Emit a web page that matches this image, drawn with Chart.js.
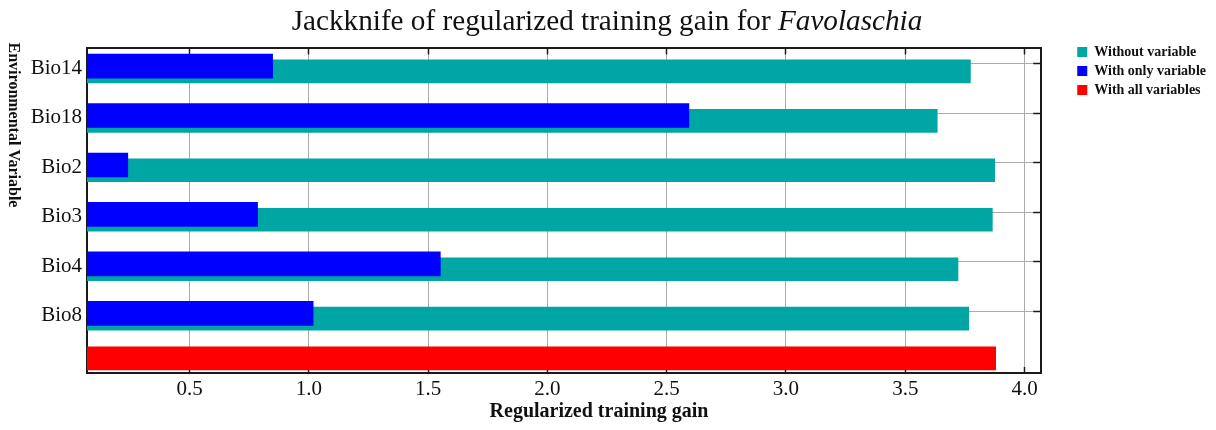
<!DOCTYPE html>
<html>
<head>
<meta charset="utf-8">
<title>Jackknife of regularized training gain for Favolaschia</title>
<script src="https://cdn.jsdelivr.net/npm/chart.js@4.4.1/dist/chart.umd.min.js"></script>
<style>
  html, body { margin: 0; padding: 0; background: #ffffff; }
  canvas { display: block; }
</style>
</head>
<body>
<canvas id="jackknife" width="1216" height="430"></canvas>
<script>
// ---- data -------------------------------------------------------------
const variables = ['Bio14', 'Bio18', 'Bio2', 'Bio3', 'Bio4', 'Bio8'];
const withoutVariable = [3.773, 3.634, 3.875, 3.865, 3.721, 3.766];
const withOnlyVariable = [0.848, 2.593, 0.241, 0.785, 1.551, 1.018];
const withAllVariables = [3.879];
const gainTicks = [0.5, 1.0, 1.5, 2.0, 2.5, 3.0, 3.5, 4.0];
const seriesNames = ['Without variable', 'With only variable', 'With all variables'];
const titleParts = [
  { text: 'Jackknife of regularized training gain for ', italic: false },
  { text: 'Favolaschia', italic: true }
];
const xTitle = 'Regularized training gain';
const yTitle = 'Environmental Variable';

// ---- look -------------------------------------------------------------
const SERIF = "'Liberation Serif', 'Times New Roman', Times, serif";
const TEAL = '#00a6a3';
const BLUE = '#0000ff';
const RED = '#ff0000';
const INK = '#111111';
const FRAME = '#1a1a1a';
const GRID = '#ababab';

// axis extents (gain on x, variable rows on y, row 0 at the top)
const GAIN_MIN = 0.07, GAIN_MAX = 4.07;
const ROW_MIN = -0.33, ROW_MAX = 6.25;
// per-series nudges within a row: "with only" sits a little above "without",
// and the all-variables bar keeps clear of the bottom frame
const BLUE_SHIFT = 0.045, TEAL_SHIFT = 0.152, RED_SHIFT = -0.045;

const rowTicks = (scale) => { scale.ticks = variables.map((_, i) => ({ value: i })); };
const gainTickList = (scale) => { scale.ticks = gainTicks.map(v => ({ value: v })); };
const shiftedRows = (shift) => ({
  type: 'linear', display: false, reverse: true, offset: false,
  min: ROW_MIN - shift, max: ROW_MAX - shift
});
const frameBorder = { display: true, color: FRAME, width: 2 };

// titles drawn with mixed upright / italic type
const captions = {
  id: 'captions',
  afterDraw(chart, args, opts) {
    const ctx = chart.ctx;
    ctx.save();
    ctx.fillStyle = INK;
    ctx.textBaseline = 'alphabetic';

    // main title, centred on the canvas
    const t = opts.title;
    const fontOf = (p) => `${p.italic ? 'italic ' : ''}${t.size}px ${SERIF}`;
    let total = 0;
    for (const p of t.parts) { ctx.font = fontOf(p); total += ctx.measureText(p.text).width; }
    let x = t.x - total / 2;
    ctx.textAlign = 'left';
    for (const p of t.parts) {
      ctx.font = fontOf(p);
      ctx.fillText(p.text, x, t.y);
      x += ctx.measureText(p.text).width;
    }

    // x axis title
    const xt = opts.xTitle;
    ctx.font = `bold ${xt.size}px ${SERIF}`;
    ctx.textAlign = 'center';
    ctx.fillText(xt.text, xt.x, xt.y);

    // y axis title, reading top to bottom
    const yt = opts.yTitle;
    ctx.font = `bold ${yt.size}px ${SERIF}`;
    ctx.translate(yt.x, yt.y);
    ctx.rotate(Math.PI / 2);
    ctx.textAlign = 'center';
    ctx.textBaseline = 'middle';
    ctx.fillText(yt.text, 0, 0);
    ctx.restore();
  }
};

new Chart(document.getElementById('jackknife'), {
  type: 'bar',
  data: {
    datasets: [
      {
        label: seriesNames[0],
        data: withoutVariable.map((v, i) => ({ x: v, y: i })),
        backgroundColor: TEAL,
        xAxisID: 'x', yAxisID: 'yTeal',
        grouped: false, barThickness: 23, order: 2
      },
      {
        label: seriesNames[1],
        data: withOnlyVariable.map((v, i) => ({ x: v, y: i })),
        backgroundColor: BLUE,
        xAxisID: 'x', yAxisID: 'yBlue',
        grouped: false, barThickness: 24, order: 1
      },
      {
        label: seriesNames[2],
        data: withAllVariables.map(v => ({ x: v, y: variables.length })),
        backgroundColor: RED,
        xAxisID: 'x', yAxisID: 'yRed',
        grouped: false, barThickness: 23, order: 0
      }
    ]
  },
  options: {
    indexAxis: 'y',
    responsive: false,
    animation: false,
    devicePixelRatio: 1,
    clip: 0,
    layout: { padding: { top: 40, right: 0, bottom: 0, left: 0 } },
    scales: {
      x: {
        type: 'linear', position: 'bottom', min: GAIN_MIN, max: GAIN_MAX, offset: false,
        afterBuildTicks: gainTickList,
        afterFit: (s) => { s.height = 57; },
        ticks: {
          font: { family: SERIF, size: 21 }, color: INK, padding: 10,
          maxRotation: 0, autoSkip: false,
          callback: (v) => Number(v).toFixed(1)
        },
        grid: { offset: false, color: GRID, lineWidth: 1, drawTicks: true, tickLength: -6, tickColor: FRAME, tickWidth: 1.5 },
        border: frameBorder
      },
      xTop: {
        type: 'linear', position: 'top', min: GAIN_MIN, max: GAIN_MAX, offset: false,
        afterBuildTicks: gainTickList,
        afterFit: (s) => { s.height = 7.5; },
        ticks: { display: false },
        grid: { offset: false, drawOnChartArea: false, drawTicks: true, tickLength: -7, tickColor: FRAME, tickWidth: 1.5 },
        border: frameBorder
      },
      y: {
        type: 'linear', position: 'left', reverse: true, min: ROW_MIN, max: ROW_MAX, offset: false,
        afterBuildTicks: rowTicks,
        afterFit: (s) => { s.width = 87; },
        ticks: {
          font: { family: SERIF, size: 21 }, color: INK, padding: 5, labelOffset: 4.5,
          autoSkip: false,
          callback: (v) => variables[v] ?? ''
        },
        grid: { offset: false, color: GRID, lineWidth: 1, drawTicks: false },
        border: frameBorder
      },
      yRight: {
        type: 'linear', position: 'right', reverse: true, min: ROW_MIN, max: ROW_MAX, offset: false,
        afterBuildTicks: rowTicks,
        afterFit: (s) => { s.width = 31; },
        ticks: { display: false },
        grid: { offset: false, drawOnChartArea: false, drawTicks: true, tickLength: -8, tickColor: FRAME, tickWidth: 1.5 },
        border: frameBorder
      },
      yBlue: shiftedRows(BLUE_SHIFT),
      yTeal: shiftedRows(TEAL_SHIFT),
      yRed: shiftedRows(RED_SHIFT)
    },
    plugins: {
      legend: {
        position: 'right', align: 'start',
        labels: {
          boxWidth: 10, boxHeight: 10, padding: 5, color: INK,
          font: { family: SERIF, size: 14, weight: 'bold' },
          sort: (a, b) => a.datasetIndex - b.datasetIndex
        }
      },
      tooltip: { enabled: false },
      captions: {
        title: { parts: titleParts, size: 29.2, x: 607, y: 30 },
        xTitle: { text: xTitle, size: 20, x: 599, y: 417 },
        yTitle: { text: yTitle, size: 16, x: 13, y: 125 }
      }
    }
  },
  plugins: [captions]
});
</script>
</body>
</html>
